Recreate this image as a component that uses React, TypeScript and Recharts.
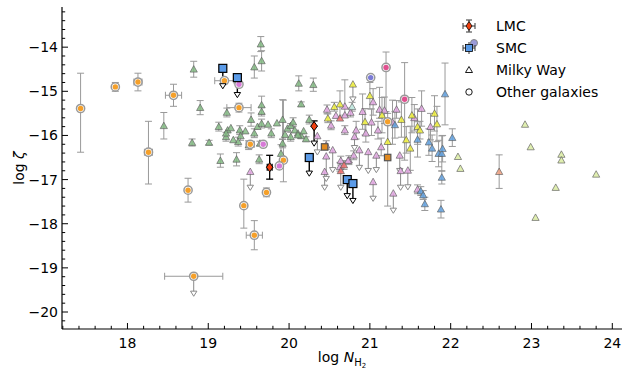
import { ErrorBar, Legend, Scatter, ScatterChart, XAxis, YAxis } from "recharts";

// rows: [log N(H2), log zeta, err down, err up, x err]
const mwGreen = [
  [18.45, -15.78, 0.3, 0.3], [18.82, -14.5, 0.18, 0.18], [18.9, -15.37, 0.16, 0.16],
  [18.8, -16.16, 0.08, 0.08], [19.01, -16.16, 0.05, 0.05], [19.15, -16.57, 0.15, 0.15],
  [19.35, -16.54, 0.15, 0.15], [19.57, -14.45, 0.25, 0.25], [19.65, -13.93, 0.17, 0.17],
  [19.66, -14.31, 0.23, 0.23], [20.12, -14.82, 0.17, 0.17], [20.3, -14.85, 0.15, 0.15],
  [19.23, -15.48, 0.1, 0.1], [19.66, -15.31, 0.2, 0.2], [19.66, -15.46, 0.1, 0.1],
  [20.15, -15.29, 0.05, 0.05], [19.13, -15.8, 0.1, 0.1], [19.24, -15.88, 0, 0],
  [19.28, -15.83, 0, 0], [19.39, -15.88, 0.1, 0.1], [19.53, -15.64, 0.15, 0.15],
  [19.61, -15.8, 0, 0], [19.66, -15.73, 0.1, 0.1], [19.74, -15.75, 0, 0],
  [19.92, -15.64, 0.45, 0.45], [19.98, -15.84, 0, 0], [20.02, -15.78, 0.05, 0.05],
  [20.07, -15.88, 0, 0], [20.11, -15.95, 0, 0], [20.15, -16.01, 0.05, 0.05],
  [20.25, -15.64, 0.1, 0.1], [19.4, -16.01, 0.1, 0.1], [19.22, -16.03, 0.1, 0.1],
  [19.22, -15.95, 0, 0], [19.37, -16.14, 0.1, 0.1], [19.57, -15.95, 0.1, 0.1],
  [19.64, -16.18, 0.05, 0.05], [19.78, -15.95, 0.1, 0.1], [19.92, -16.18, 0.1, 0.1],
  [19.9, -16.41, 0.2, 0.2], [20.02, -16.03, 0.1, 0.1], [20.11, -15.99, 0, 0],
  [19.63, -16.54, 0.1, 0.1], [19.85, -15.72, 0, 0], [20.05, -15.7, 0.1, 0.1],
  [19.46, -15.9, 0, 0], [19.31, -16.1, 0, 0], [19.5, -16.22, 0.1, 0.1],
  [20.18, -15.9, 0, 0], [20.21, -16.08, 0.05, 0.05], [19.95, -15.98, 0, 0],
];
const mwPink = [
  [19.52, -16.82, 0, 0], [20.47, -15.41, 0.1, 0.1], [20.69, -15.34, 0.2, 0.6],
  [20.76, -15.48, 0.1, 0.1], [20.69, -15.54, 0, 0], [20.91, -15.46, 0.4, 0.4],
  [21.04, -15.24, 0.3, 0.3], [21.12, -15.41, 0.2, 0.5], [21.18, -15.43, 0.3, 0.3],
  [21.33, -15.41, 0.2, 0.2], [21.64, -15.39, 0.4, 0.4], [21.75, -15.8, 0.3, 0.3],
  [20.83, -15.88, 0.2, 0.2], [20.52, -15.77, 0.1, 0.1], [20.69, -15.88, 0.1, 0.1],
  [21.1, -15.88, 0.2, 0.2], [20.63, -16.71, 0.1, 0.1], [20.74, -16.56, 0.1, 0.1],
  [20.87, -16.33, 0, 0], [20.98, -16.37, 0, 0], [21.08, -16.45, 0, 0],
  [21.14, -16.26, 0.2, 0.2], [21.47, -16.79, 0, 0], [20.54, -16.33, 0, 0],
  [20.46, -16.22, 0.1, 0.1], [20.35, -16.01, 0, 0], [20.81, -16.03, 0, 0],
  [20.46, -16.47, 0, 0], [20.64, -16.57, 0.1, 0.1], [20.73, -16.57, 0, 0],
  [20.8, -16.45, 0.1, 0.1], [21.37, -16.45, 0, 0], [21.38, -16.8, 0, 0],
  [21.04, -17.05, 0, 0], [21.29, -17.31, 0, 0], [21.59, -17.22, 0.1, 0.1],
  [20.44, -16.82, 0, 0], [21.55, -15.6, 0.3, 0.3], [21.28, -15.7, 0.5, 0.5],
  [20.58, -15.55, 0, 0], [20.95, -15.95, 0.2, 0.2], [21.02, -15.7, 0.3, 0.3],
];
const mwYellow = [
  [20.79, -14.84, 0, 0], [20.56, -15.35, 0.1, 0.1], [20.63, -15.29, 0.3, 0.3],
  [20.48, -15.61, 0.1, 0.1], [20.94, -15.69, 0.3, 0.3], [21.15, -15.54, 0.4, 0.4],
  [21.39, -15.64, 0.4, 0.4], [21.52, -15.54, 0.4, 0.4], [21.59, -15.8, 0.4, 0.4],
  [21.83, -15.74, 0.4, 0.4], [21.45, -16.1, 0.3, 0.3], [21.62, -15.88, 0.2, 0.2],
  [21.22, -16.14, 0.4, 0.4], [21.5, -16.29, 0.5, 0.5], [21.8, -15.5, 0.4, 0.4],
  [21.0, -15.1, 0.3, 0.3],
];
const mwBlue = [
  [21.93, -15.06, 0.7, 0.7], [21.31, -15.76, 0.3, 0.3], [21.85, -16.41, 0.3, 0.3],
  [21.89, -16.41, 0.4, 0.4], [22.02, -16.05, 0.2, 0.2], [21.59, -16.09, 0.4, 0.4],
  [21.73, -16.15, 0.3, 0.3], [21.77, -16.29, 0.3, 0.3], [21.89, -16.95, 0.15, 0.15],
  [21.63, -17.26, 0.1, 0.1], [21.66, -17.35, 0.1, 0.1], [21.68, -17.55, 0.15, 0.15],
  [21.88, -17.67, 0.2, 0.2], [21.9, -16.3, 0.3, 0.3],
];
const mwPale = [
  [22.09, -16.48], [22.12, -16.75], [22.92, -15.75], [22.99, -16.26], [23.37, -16.43],
  [23.37, -16.56], [23.8, -16.88], [23.3, -17.18], [23.05, -17.86],
];
const mwRed = [[20.63, -15.61, 0, 0], [20.68, -16.67, 0.1, 0.1], [20.64, -16.8, 0, 0]];
const mwSalmon = [[22.6, -16.82, 0.38, 0.38]];
const mwCyan = [[20.78, -15.35, 0.1, 0.1]];

// upper limits: [x, marker y, arrow tip y]
const mwLimits = [
  [19.52, -16.82, -17.2], [20.87, -16.33, -16.75], [20.98, -16.37, -16.82],
  [21.08, -16.45, -16.8], [21.47, -16.79, -17.19], [20.54, -16.33, -16.8],
  [20.35, -16.01, -16.4], [20.81, -16.03, -16.3], [20.46, -16.47, -17.0],
  [21.37, -16.45, -16.82], [21.38, -16.8, -17.2], [21.04, -17.05, -17.45],
  [21.29, -17.31, -17.72], [20.44, -16.82, -17.2], [20.64, -16.8, -17.2],
  [20.79, -14.84, -15.2], [18.82, -19.19, -19.6],
];

const otherOrange = [
  [17.42, -15.39, 0.99, 0.8, 0], [17.85, -14.9, 0.1, 0.1, 0.03], [18.13, -14.79, 0.2, 0.2, 0.05],
  [18.57, -15.09, 0.25, 0.25, 0.1], [18.26, -16.38, 0.72, 0.7, 0.05], [18.75, -17.24, 0.27, 0.27, 0.03],
  [19.44, -17.59, 0.51, 0.6, 0], [19.57, -18.26, 0.33, 0.33, 0.1], [18.82, -19.19, 0, 0, 0.36],
  [19.72, -17.29, 0.1, 0.1, 0.03], [19.2, -14.76, 0, 0, 0.12], [19.38, -15.37, 0.1, 0.1, 0.15],
  [19.52, -16.2, 0.05, 0.05, 0.05], [19.93, -16.56, 0.49, 1.36, 0.03], [21.22, -15.69, 0, 0, 0],
];
const otherBrown = [[20.44, -16.26, 0.05, 0.05, 0.04], [21.22, -16.5, 1.1, 1.0, 0]];
const otherPink = [[19.38, -14.84, 0, 0], [19.68, -16.2, 0, 0], [19.88, -16.69, 0, 0]];
const otherRose = [[21.2, -14.46, 1.0, 0.35], [21.43, -15.18, 1.38, 0.83]];
const otherViolet = [[21.01, -14.69, 0, 0]];

const lmc = [[19.76, -16.72, 0.27, 0.27, 0.03], [20.31, -15.79, 0, 0.12, 0]];
const lmcLimits = [[20.31, -15.79, -16.2]];
const smc = [[19.18, -14.48], [19.36, -14.69], [20.25, -16.5], [20.72, -17.0], [20.79, -17.09]];
const smcLimits = [
  [19.18, -14.48, -14.9], [19.36, -14.69, -15.1], [20.25, -16.5, -16.88],
  [20.72, -17.0, -17.39], [20.79, -17.09, -17.5],
];

const xMajor = [18, 19, 20, 21, 22, 23, 24];
const yMajor = [-20, -19, -18, -17, -16, -15, -14];
const legendNames = ["LMC", "SMC", "Milky Way", "Other galaxies"];

const X_DOMAIN = [17.19, 24.12];
const Y_DOMAIN = [-20.385, -13.09];
const FONT = "DejaVu Sans";

const rows = (pts: number[][]) =>
  pts.map(([x, y, lo = 0, hi = 0, xe = 0]) => ({
    x,
    y,
    ey: lo || hi ? [lo, hi] : null,
    ex: xe || null,
  }));
const tips = (pts: number[][]) =>
  pts.map(([x, top, tip]) => ({ x, y: tip, ey: [0, top - tip] }));

const minorTicks = (lo: number, hi: number) => {
  const out: number[] = [];
  for (let k = Math.ceil(lo * 5); k <= Math.floor(hi * 5); k++) out.push(Math.round(k * 20) / 100);
  return out;
};
const xTicks = minorTicks(X_DOMAIN[0], X_DOMAIN[1]);
const yTicks = minorTicks(Y_DOMAIN[0], Y_DOMAIN[1]);
const isMajor = (v: number) => Math.abs(v - Math.round(v)) < 1e-6;
const fmt = (v: number) => (v < 0 ? "\u2212" + Math.abs(v) : String(v));

const tickLen = (v: number) => (isMajor(v) ? 6 : 3.2);

const BottomTick = ({ x, y, payload }: any) => (
  <g>
    <line x1={x} x2={x} y1={y} y2={y - tickLen(payload.value)} stroke="#000" strokeWidth={1} />
    {isMajor(payload.value) && xMajor.includes(Math.round(payload.value)) && (
      <text x={x} y={y + 19} textAnchor="middle" fontSize={14} fontFamily={FONT} fill="#000">
        {fmt(Math.round(payload.value))}
      </text>
    )}
  </g>
);
const TopTick = ({ x, y, payload }: any) => (
  <line x1={x} x2={x} y1={y} y2={y + tickLen(payload.value)} stroke="#000" strokeWidth={1} />
);
const LeftTick = ({ x, y, payload }: any) => (
  <g>
    <line x1={x} x2={x + tickLen(payload.value)} y1={y} y2={y} stroke="#000" strokeWidth={1} />
    {isMajor(payload.value) && yMajor.includes(Math.round(payload.value)) && (
      <text x={x - 4} y={y + 5} textAnchor="end" fontSize={14} fontFamily={FONT} fill="#000">
        {fmt(Math.round(payload.value))}
      </text>
    )}
  </g>
);
const RightTick = ({ x, y, payload }: any) => (
  <line x1={x} x2={x - tickLen(payload.value)} y1={y} y2={y} stroke="#000" strokeWidth={1} />
);

const tri = (fill: string, stroke = "#5f5f5f") => ({ cx, cy }: any) => {
  const s = 3.6;
  return (
    <polygon
      points={`${cx},${cy - s} ${cx - s},${cy + s * 0.8} ${cx + s},${cy + s * 0.8}`}
      fill={fill}
      fillOpacity={0.85}
      stroke={stroke}
      strokeOpacity={0.75}
      strokeWidth={0.9}
    />
  );
};
const downTri = (stroke: string) => ({ cx, cy }: any) => {
  const s = 3.2;
  return (
    <polygon
      points={`${cx - s},${cy - s} ${cx + s},${cy - s} ${cx},${cy + s * 0.6}`}
      fill="#fff"
      stroke={stroke}
      strokeWidth={1}
    />
  );
};
const dot = (fill: string) => ({ cx, cy }: any) => (
  <g>
    <circle cx={cx} cy={cy} r={4.1} fill="#fff" stroke="#999" strokeWidth={1.5} />
    <circle cx={cx} cy={cy} r={2.7} fill={fill} />
  </g>
);
const square = (fill: string, stroke: string, s: number) => ({ cx, cy }: any) => (
  <rect x={cx - s} y={cy - s} width={2 * s} height={2 * s} fill={fill} stroke={stroke} strokeWidth={1.2} />
);
const diamond = ({ cx, cy }: any) => (
  <polygon
    points={`${cx},${cy - 4.6} ${cx + 3.3},${cy} ${cx},${cy + 4.6} ${cx - 3.3},${cy}`}
    fill="#f2400f"
    stroke="#000"
    strokeWidth={1}
  />
);

const GREY = "#999";

function series(key: string, data: number[][], shape: any, color = GREY, capW = 3.5, sw = 1) {
  return (
    <Scatter key={key} data={rows(data)} xAxisId="b" yAxisId="l" shape={shape} isAnimationActive={false}>
      <ErrorBar dataKey="ey" direction="y" stroke={color} strokeWidth={sw} width={capW} isAnimationActive={false} />
      <ErrorBar dataKey="ex" direction="x" stroke={color} strokeWidth={sw} width={capW} isAnimationActive={false} />
    </Scatter>
  );
}
function limitSeries(key: string, data: number[][], color: string, sw: number) {
  return (
    <Scatter key={key} data={tips(data)} xAxisId="b" yAxisId="l" shape={downTri(color)} isAnimationActive={false}>
      <ErrorBar dataKey="ey" direction="y" stroke={color} strokeWidth={sw} width={0} isAnimationActive={false} />
    </Scatter>
  );
}

const legendIcon = (i: number) => {
  if (i === 0)
    return (
      <g>
        <line x1={9} x2={21} y1={11} y2={11} stroke="#333" />
        <line x1={15} x2={15} y1={5} y2={17} stroke="#333" />
        <line x1={9} x2={9} y1={8} y2={14} stroke="#333" />
        <line x1={21} x2={21} y1={8} y2={14} stroke="#333" />
        <line x1={12} x2={18} y1={5} y2={5} stroke="#333" />
        <line x1={12} x2={18} y1={17} y2={17} stroke="#333" />
        <polygon points="15,6.5 18,11 15,15.5 12,11" fill="#f2400f" stroke="#000" strokeWidth={0.8} />
      </g>
    );
  if (i === 1)
    return (
      <g>
        <circle cx={20} cy={6} r={3.5} fill="#9a9ad8" stroke="#888" />
        <line x1={9} x2={21} y1={11} y2={11} stroke="#333" />
        <line x1={15} x2={15} y1={5} y2={17} stroke="#333" />
        <line x1={9} x2={9} y1={8} y2={14} stroke="#333" />
        <line x1={21} x2={21} y1={8} y2={14} stroke="#333" />
        <rect x={11.5} y={7.5} width={7} height={7} fill="#5b9be8" stroke="#000" strokeWidth={0.8} />
      </g>
    );
  if (i === 2) return <polygon points="15,7.5 18.5,13.5 11.5,13.5" fill="#fff" stroke="#000" strokeWidth={0.9} />;
  return <circle cx={15} cy={11} r={3.2} fill="#fff" stroke="#000" strokeWidth={0.9} />;
};

const LegendBox = () => (
  <div style={{ fontFamily: FONT, fontSize: 14, color: "#000", lineHeight: "22px" }}>
    {legendNames.map((name, i) => (
      <div key={name} style={{ display: "flex", alignItems: "center", height: 22 }}>
        <svg width={30} height={22} style={{ marginRight: 12 }}>
          {legendIcon(i)}
        </svg>
        <span>{name}</span>
      </div>
    ))}
  </div>
);

const XLabel = () => (
  <text x={342} y={362} textAnchor="middle" fontSize={14} fontFamily={FONT} fill="#000">
    log <tspan fontStyle="italic">N</tspan>
    <tspan fontSize={10} dy={4}>H</tspan>
    <tspan fontSize={7} dy={2}>2</tspan>
  </text>
);
const YLabel = () => (
  <text x={24} y={168} textAnchor="middle" fontSize={14} fontFamily={FONT} fill="#000" transform="rotate(-90 24 168)">
    log <tspan fontStyle="italic">ζ</tspan>
  </text>
);

export default function App() {
  return (
    <div style={{ position: "absolute", left: 0, top: 0, width: 628, height: 376, background: "#fff" }}>
      <ScatterChart width={628} height={376} margin={{ top: 7, right: 6, bottom: 0, left: 0 }}>
        <XAxis
          xAxisId="b"
          type="number"
          dataKey="x"
          domain={X_DOMAIN}
          allowDataOverflow
          ticks={xTicks}
          interval={0}
          height={47}
          tickSize={0}
          tickMargin={0}
          tickLine={false}
          tick={<BottomTick />}
          axisLine={{ stroke: "#000", strokeWidth: 1.2 }}
          label={<XLabel />}
        />
        <XAxis
          xAxisId="t"
          orientation="top"
          type="number"
          dataKey="x"
          domain={X_DOMAIN}
          allowDataOverflow
          ticks={xTicks}
          interval={0}
          height={0}
          tickSize={0}
          tickMargin={0}
          tickLine={false}
          tick={<TopTick />}
          axisLine={{ stroke: "#000", strokeWidth: 1.2 }}
        />
        <YAxis
          yAxisId="l"
          type="number"
          dataKey="y"
          domain={Y_DOMAIN}
          allowDataOverflow
          ticks={yTicks}
          interval={0}
          width={62}
          tickSize={0}
          tickMargin={0}
          tickLine={false}
          tick={<LeftTick />}
          axisLine={{ stroke: "#000", strokeWidth: 1.2 }}
          label={<YLabel />}
        />
        <YAxis
          yAxisId="r"
          orientation="right"
          type="number"
          dataKey="y"
          domain={Y_DOMAIN}
          allowDataOverflow
          ticks={yTicks}
          interval={0}
          width={0}
          tickSize={0}
          tickMargin={0}
          tickLine={false}
          tick={<RightTick />}
          axisLine={{ stroke: "#000", strokeWidth: 1.2 }}
        />
        {limitSeries("mwlim", mwLimits, "#8a8a8a", 1)}
        {series("green", mwGreen, tri("#84bb84"))}
        {series("pink", mwPink, tri("#e2a6e2"))}
        {series("yellow", mwYellow, tri("#f0f03a"))}
        {series("blue", mwBlue, tri("#62a2e2"))}
        {series("pale", mwPale, tri("#dbeca2"))}
        {series("red", mwRed, tri("#f06a6a"))}
        {series("salmon", mwSalmon, tri("#f0a080"))}
        {series("cyan", mwCyan, tri("#c4f0e6"))}
        {series("orange", otherOrange, dot("#f5a02a"))}
        {series("brown", otherBrown, square("#e08a20", "#555", 3.2))}
        {series("opink", otherPink, dot("#d77ad7"))}
        {series("orose", otherRose, dot("#e0508f"))}
        {series("oviolet", otherViolet, dot("#7b7bd6"))}
        {limitSeries("lmclim", lmcLimits, "#000", 1.4)}
        {series("lmc", lmc, diamond, "#000", 3.5, 1.3)}
        {limitSeries("smclim", smcLimits, "#000", 1.4)}
        {series("smc", smc, square("#5b9be8", "#000", 4), "#000")}
        <Legend
          layout="vertical"
          align="center"
          verticalAlign="middle"
          content={<LegendBox />}
          wrapperStyle={{ position: "absolute", top: 15, left: 454, width: 170 }}
        />
      </ScatterChart>
    </div>
  );
}
